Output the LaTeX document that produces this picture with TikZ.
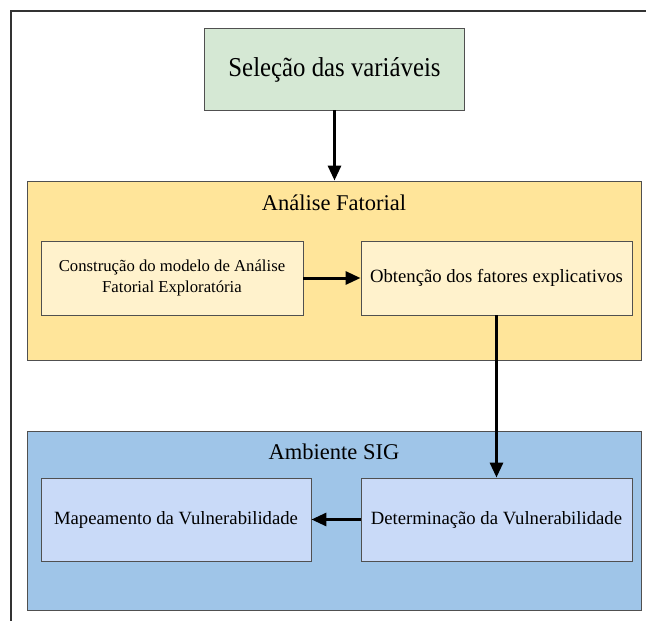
\documentclass[tikz,border=0pt]{standalone}
\usepackage{fontspec}
\setmainfont{Liberation Serif}
\usetikzlibrary{arrows.meta}
\definecolor{selgreen}{HTML}{D5E8D4}
\definecolor{afyellow}{HTML}{FFE59A}
\definecolor{inyellow}{HTML}{FFF2CC}
\definecolor{sigblue}{HTML}{9FC5E8}
\definecolor{inblue}{HTML}{C9DAF8}
\definecolor{edgegray}{HTML}{505050}
\tikzset{
  boxstyle/.style={draw=edgegray, line width=0.9pt, inner sep=0pt, anchor=center},
  flowarrow/.style={line width=3pt, -{Triangle[length=15pt,width=13pt]}},
  bigtext/.style={font=\fontsize{24.8}{28}\selectfont},
  titletext/.style={font=\fontsize{22.5}{26}\selectfont, inner sep=0pt},
  intext/.style={font=\fontsize{18.7}{22}\selectfont, align=center},
  smalltext/.style={font=\fontsize{16.7}{20.5}\selectfont, align=center},
}
\begin{document}
\begin{tikzpicture}[x=1pt,y=-1pt]
\useasboundingbox (0,0) rectangle (646,621);
% outer frame
\coordinate (fa) at (11,621);
\coordinate (fb) at (11,11);
\coordinate (fc) at (646,11);
\draw[line width=2pt, draw=black!80] (fa) -- (fb) -- (fc);
% boxes
\node[boxstyle, fill=selgreen, minimum width=260pt, minimum height=82pt] (sel) at (334.5,69) {};
\node[bigtext, inner sep=0pt] (selt) at (334.5,69.5) {\scalebox{1}[1.1]{Seleção das variáveis}};
\node[boxstyle, fill=afyellow, minimum width=614pt, minimum height=179pt] (af) at (334,270.5) {};
\node[titletext] (aft) at (334,203) {Análise Fatorial};
\node[boxstyle, fill=inyellow, minimum width=262pt, minimum height=74pt, smalltext] (c1) at (172,278) {Construção do modelo de Análise\\Fatorial Exploratória};
\node[boxstyle, fill=inyellow, minimum width=271pt, minimum height=74pt, intext] (c2) at (496.5,278) {Obtenção dos fatores explicativos};
\node[boxstyle, fill=sigblue, minimum width=614pt, minimum height=179pt] (sig) at (334,520.5) {};
\node[titletext] (sigt) at (334,452) {Ambiente SIG};
\node[boxstyle, fill=inblue, minimum width=270pt, minimum height=83pt, intext] (m1) at (176,519.5) {Mapeamento da Vulnerabilidade};
\node[boxstyle, fill=inblue, minimum width=271pt, minimum height=83pt, intext] (m2) at (496.5,519.5) {Determinação da Vulnerabilidade};
% connectors
\draw[flowarrow] (sel.south) -- (af.north -| sel.south);
\draw[flowarrow] (c1.east) -- (c2.west);
\draw[flowarrow] (c2.south) -- (m2.north);
\draw[flowarrow] (m2.west) -- (m1.east);
\end{tikzpicture}
\end{document}
